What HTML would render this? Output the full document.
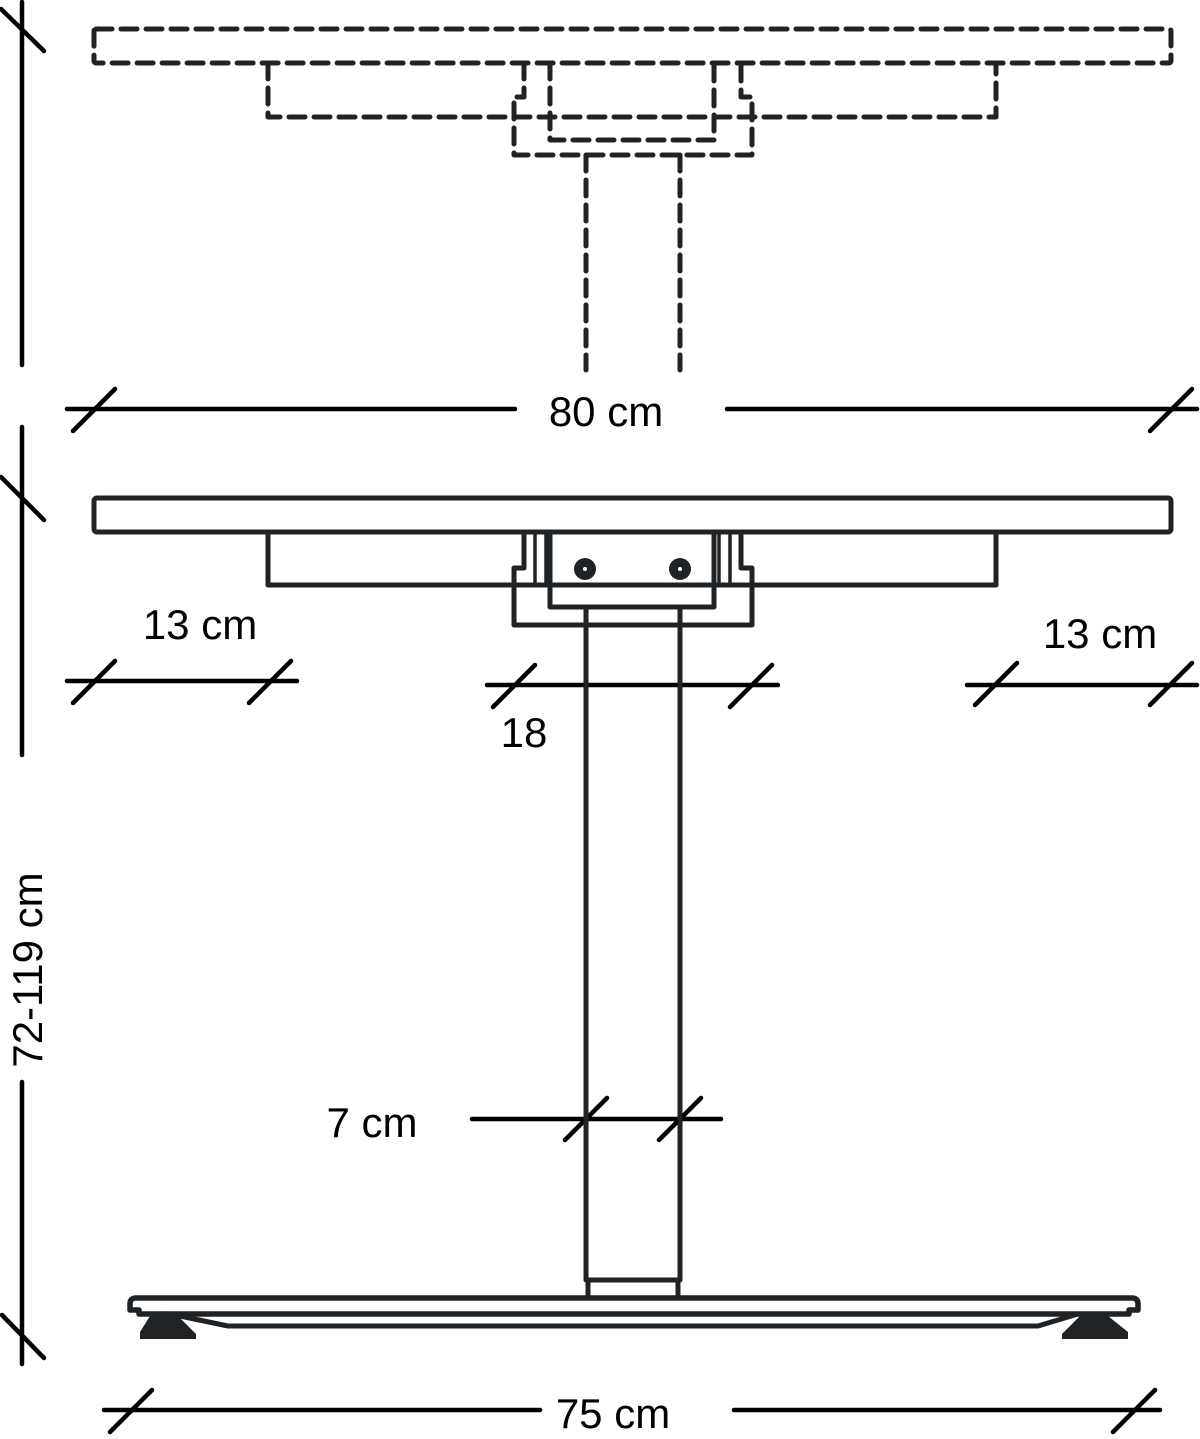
<!DOCTYPE html>
<html><head><style>html,body{margin:0;padding:0;background:#fff;}svg{display:block}</style></head>
<body>
<svg width="1200" height="1439" viewBox="0 0 1200 1439" xmlns="http://www.w3.org/2000/svg">
<g fill="none" stroke="#1f2326" stroke-width="5" stroke-linecap="round" stroke-linejoin="round">
 <g stroke-dasharray="16 9">
  <rect x="94" y="29" width="1077" height="34" rx="2"/>
  <path d="M268 63 V117 H996 V63"/>
  <path d="M550 63 V140 H714 V63"/>
  <path d="M524 63 V97 H514 V155 H752 V97 H741 V63"/>
  <path d="M586 155 V370 M680 155 V370"/>
 </g>
 <g stroke="#000" stroke-width="4.5">
  <path d="M22 2 V365 M1 9 L44 51"/>
  <path d="M67 409 H515 M727 409 H1197 M73 431 L115 389 M1150 431 L1192 389"/>
  <path d="M22 427 V755 M1 477 L44 520"/>
  <path d="M67 681 H297 M73 703 L115 661 M249 703 L291 661"/>
  <path d="M487 685 H778 M493 707 L535 665 M730 707 L772 665"/>
  <path d="M967 685 H1197 M975 705 L1017 663 M1150 705 L1192 663"/>
  <path d="M472 1119 H721 M565 1140 L607 1098 M659 1140 L701 1098"/>
  <path d="M22 1082 V1364 M2 1315 L44 1358"/>
  <path d="M104 1410 H540 M734 1410 H1160 M110 1432 L152 1390 M1113 1432 L1155 1390"/>
 </g>
 <rect x="94" y="498" width="1077" height="34" rx="3"/>
 <path d="M268 532 V585 H996 V532"/>
 <path d="M550 532 V607 H714 V532"/>
 <path d="M524 532 V568 H514 V625 H752 V568 H741 V532"/>
 <path d="M535 535 V582 M546 535 V582 M719 535 V582 M730 535 V582" stroke-width="3.5"/>
 <path d="M586 607 V1280 M680 607 V1280 M586 1280 H680"/>
 <path d="M588 1280 V1297 M678 1280 V1297"/>
 <path d="M136 1298 H1132 Q1138 1298 1138 1304 V1310 H1129 L1129 1314 H139 V1310 H130 V1304 Q130 1298 136 1298 Z" stroke-width="5.5"/>
 <path d="M162 1314 L175 1315 L228 1326 H1038 L1078 1314"/>
</g>
<g fill="#1f2326">
 <circle cx="585" cy="569" r="11"/>
 <circle cx="680" cy="569" r="11"/>
 <path d="M150 1316 L178 1316 L196 1334 L196 1339 L140 1339 L140 1332 Z"/>
 <path d="M1080 1316 L1108 1316 L1128 1332 L1128 1339 L1062 1339 L1062 1334 Z"/>
</g>
<g fill="#fff"><circle cx="585" cy="569" r="2"/><circle cx="680" cy="569" r="2"/></g>
<g font-family="Liberation Sans, sans-serif" font-size="42" fill="#000">
 <text x="606" y="426" text-anchor="middle">80 cm</text>
 <text x="200" y="639" text-anchor="middle">13 cm</text>
 <text x="1100" y="648" text-anchor="middle">13 cm</text>
 <text x="524" y="747" text-anchor="middle">18</text>
 <text x="372" y="1137" text-anchor="middle">7 cm</text>
 <text x="613" y="1428" text-anchor="middle">75 cm</text>
 <text transform="translate(42 970) rotate(-90)" text-anchor="middle">72-119 cm</text>
</g>
</svg>
</body></html>
